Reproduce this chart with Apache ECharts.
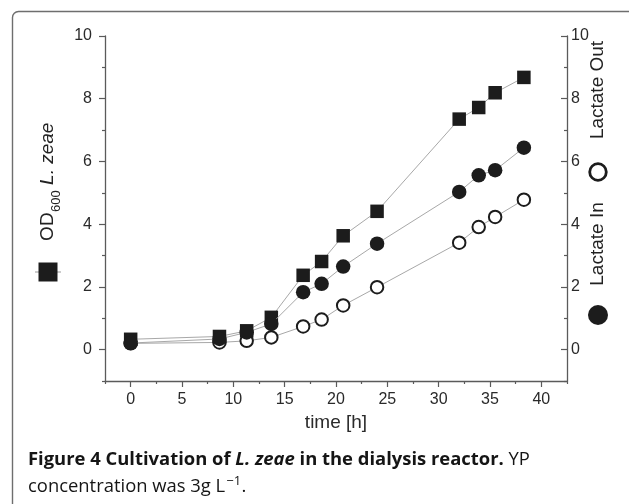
<!DOCTYPE html>
<html><head><meta charset="utf-8">
<script src="https://cdn.jsdelivr.net/npm/echarts@6/dist/echarts.min.js"></script>
<style>html,body{margin:0;padding:0;background:#fff}#c{width:629px;height:504px}</style>
</head><body><div id="c"></div>
<script>
// ---- data ----
const times      = [0, 8.65, 11.3, 13.7, 16.8, 18.6, 20.7, 24.0, 32.0, 33.9, 35.5, 38.3];
const odLzeae    = [0.33, 0.42, 0.6, 1.03, 2.37, 2.81, 3.63, 4.41, 7.35, 7.72, 8.19, 8.68];
const lactateIn  = [0.21, 0.34, 0.55, 0.82, 1.83, 2.10, 2.65, 3.38, 5.03, 5.56, 5.72, 6.44];
const lactateOut = [0.20, 0.23, 0.28, 0.39, 0.74, 0.96, 1.41, 1.99, 3.41, 3.91, 4.23, 4.78];
const xTicks      = [0, 5, 10, 15, 20, 25, 30, 35, 40];
const xMinorTicks = [-2.5, 2.5, 7.5, 12.5, 17.5, 22.5, 27.5, 32.5, 37.5, 42.5];
const yTicks      = [0, 2, 4, 6, 8, 10];
const yMinorTicks = [-1, 1, 3, 5, 7, 9];

const AX = '#5a5a5a', INK = '#1c1c1c', LINE = '#a8a8a8';
const FF = '"Liberation Sans", Arial, sans-serif';
const CF = '"Open Sans", Lato, sans-serif';

const cv = document.createElement('canvas').getContext('2d');
function tw(t, f) { cv.font = f; return cv.measureText(t).width; }

function pairs(vals) { return times.map((t, i) => [t, vals[i]]); }

function majorX() {
  return { type: 'value', gridIndex: 0, position: 'bottom', min: -2.5, max: 42.5,
    axisLine: { show: true, onZero: false, lineStyle: { color: AX, width: 1.3 } },
    axisTick: { show: true, customValues: xTicks, length: 6, lineStyle: { color: AX, width: 1.2 } },
    axisLabel: { show: true, customValues: xTicks, margin: 11, fontSize: 16, color: '#2a2a2a', fontFamily: FF },
    splitLine: { show: false },
    name: 'time [h]', nameLocation: 'middle', nameGap: 31,
    nameTextStyle: { fontSize: 19, color: '#2a2a2a', fontFamily: FF } };
}
function minorX() {
  return { type: 'value', gridIndex: 0, position: 'bottom', min: -2.5, max: 42.5,
    axisLine: { show: false, onZero: false },
    axisTick: { show: true, customValues: xMinorTicks, length: 3, lineStyle: { color: AX, width: 1.2 } },
    axisLabel: { show: false }, splitLine: { show: false } };
}
function yAx(pos, major) {
  const inside = pos === 'right';
  const ax = { type: 'value', gridIndex: 0, position: pos, min: -1, max: 10,
    axisLine: { show: major, onZero: false, lineStyle: { color: AX, width: 1.3 } },
    axisTick: { show: true, inside: inside, customValues: major ? yTicks : yMinorTicks,
      length: major ? 6 : 3, lineStyle: { color: AX, width: 1.2 } },
    splitLine: { show: false } };
  ax.axisLabel = major
    ? { show: true, customValues: yTicks, margin: inside ? 4 : 13, fontSize: 16,
        color: '#2a2a2a', fontFamily: FF }
    : { show: false };
  return ax;
}

// ---- titles / legends / caption as graphic text ----
const fMain = '19px ' + FF, fSub = '13px ' + FF, fIt = 'italic 19px ' + FF;
const w1 = tw('OD', fMain), w2 = tw('600', fSub), w3 = tw(' L. zeae', fIt);
const leftLen = w1 + w2 + w3;
const leftTitle = { type: 'group', x: 48, y: 182 + leftLen / 2, rotation: Math.PI / 2, silent: true,
  children: [
    { type: 'text', x: 0, y: 0, style: { text: 'OD', font: fMain, fill: '#222', align: 'left', verticalAlign: 'middle', textAlign: 'left', textVerticalAlign: 'middle' } },
    { type: 'text', x: w1 + 0.5, y: 8, style: { text: '600', font: fSub, fill: '#222', align: 'left', verticalAlign: 'middle', textAlign: 'left', textVerticalAlign: 'middle' } },
    { type: 'text', x: w1 + w2 + 0.5, y: 0, style: { text: ' L. zeae', font: fIt, fill: '#222', align: 'left', verticalAlign: 'middle', textAlign: 'left', textVerticalAlign: 'middle' } }
  ] };

function vtext(txt, x, y) {
  return { type: 'text', x: x, y: y, rotation: Math.PI / 2, silent: true,
    style: { text: txt, font: fMain, fill: '#222', align: 'center', verticalAlign: 'middle', textAlign: 'center', textVerticalAlign: 'middle' } };
}

const c1 = 'Figure 4 Cultivation of ', c2 = 'L. zeae', c3 = ' in the dialysis reactor.', c4 = ' YP';
// fit caption line 1 to the reference width (~502 px)
const baseW = tw(c1, 'bold 17px ' + CF) + tw(c2, 'italic bold 17px ' + CF) + tw(c3, 'bold 17px ' + CF) + tw(c4, '17px ' + CF);
const cs = Math.max(14, Math.min(20, 17 * 502 / baseW));
const capB = 'bold ' + cs + 'px ' + CF, capBI = 'italic bold ' + cs + 'px ' + CF, capR = cs + 'px ' + CF, capSup = Math.round(cs * 0.68) + 'px ' + CF;
const cx0 = 28, cy1 = 460, cy2 = 487;
const cA = tw(c1, capB), cB = tw(c2, capBI), cC = tw(c3, capB);
const l2a = 'concentration was 3g L', l2aw = tw(l2a, capR), supw = tw('\u22121', capSup);
function ctext(t, x, y, font) {
  return { type: 'text', x: x, y: y, silent: true,
    style: { text: t, font: font, fill: '#151515', align: 'left', verticalAlign: 'middle', textAlign: 'left', textVerticalAlign: 'middle' } };
}

const option = {
  animation: false,
  backgroundColor: '#fff',
  grid: { left: 105, right: 62, top: 36, bottom: 123, containLabel: false, outerBoundsMode: 'none' },
  xAxis: [majorX(), minorX()],
  yAxis: [yAx('left', true), yAx('right', true), yAx('left', false), yAx('right', false)],
  series: [
    { name: 'Lactate Out', type: 'line', xAxisIndex: 0, yAxisIndex: 1, data: pairs(lactateOut),
      symbol: 'circle', symbolSize: 12.5, showAllSymbol: true,
      itemStyle: { color: '#fff', borderColor: INK, borderWidth: 2 },
      lineStyle: { color: LINE, width: 1 }, emphasis: { disabled: true }, z: 2 },
    { name: 'OD600 L. zeae', type: 'line', xAxisIndex: 0, yAxisIndex: 0, data: pairs(odLzeae),
      symbol: 'rect', symbolSize: 13.5, showAllSymbol: true,
      itemStyle: { color: INK, borderWidth: 0 },
      lineStyle: { color: LINE, width: 1 }, emphasis: { disabled: true }, z: 3 },
    { name: 'Lactate In', type: 'line', xAxisIndex: 0, yAxisIndex: 1, data: pairs(lactateIn),
      symbol: 'circle', symbolSize: 14.5, showAllSymbol: true,
      itemStyle: { color: INK, borderWidth: 0 },
      lineStyle: { color: LINE, width: 1 }, emphasis: { disabled: true }, z: 4 }
  ],
  graphic: [
    { type: 'rect', silent: true, shape: { x: 12.5, y: 11.5, width: 700, height: 600, r: 6 },
      style: { fill: 'none', stroke: '#6e6e6e', lineWidth: 1.4 } },
    leftTitle,
    { type: 'line', silent: true, shape: { x1: 35, y1: 272, x2: 61, y2: 272 }, style: { stroke: '#999', lineWidth: 1 } },
    { type: 'rect', silent: true, shape: { x: 38.5, y: 262.5, width: 19, height: 19 }, style: { fill: INK } },
    vtext('Lactate Out', 598, 90),
    { type: 'circle', silent: true, shape: { cx: 598, cy: 172, r: 8.3 }, style: { fill: '#fff', stroke: INK, lineWidth: 2.8 } },
    vtext('Lactate In', 598, 244),
    { type: 'circle', silent: true, shape: { cx: 598, cy: 315, r: 10 }, style: { fill: INK } },
    ctext(c1, cx0, cy1, capB),
    ctext(c2, cx0 + cA, cy1, capBI),
    ctext(c3, cx0 + cA + cB, cy1, capB),
    ctext(c4, cx0 + cA + cB + cC, cy1, capR),
    ctext(l2a, cx0, cy2, capR),
    ctext('\u22121', cx0 + l2aw + 1, cy2 - 6, capSup),
    ctext('.', cx0 + l2aw + supw + 1.5, cy2, capR)
  ]
};
const chart = echarts.init(document.getElementById('c'), null, { renderer: 'canvas' });
chart.setOption(option);
</script>
</body></html>
